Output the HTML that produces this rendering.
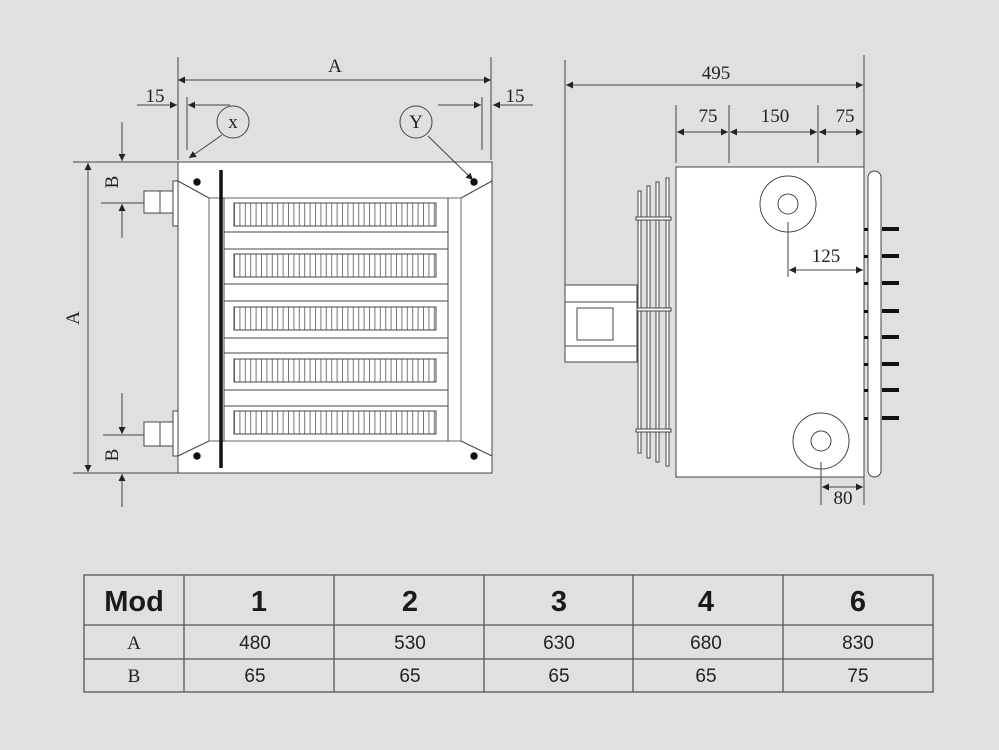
<!DOCTYPE html>
<html><head><meta charset="utf-8"><style>
html,body{margin:0;padding:0;background:#e0e0e0;}
svg{display:block;}
.s{font-family:"Liberation Serif",serif;font-size:19px;fill:#222;}
.t{font-family:"Liberation Sans",sans-serif;font-size:19px;fill:#222;}
.h{font-family:"Liberation Sans",sans-serif;font-size:29px;font-weight:bold;fill:#1a1a1a;}
</style></head><body>
<svg width="999" height="750" viewBox="0 0 999 750" xmlns="http://www.w3.org/2000/svg">
<defs>
<marker id="a" viewBox="0 0 10 10" refX="10" refY="5" markerWidth="9" markerHeight="7" orient="auto-start-reverse" markerUnits="userSpaceOnUse"><path d="M0,0L10,5L0,10z" fill="#222"/></marker>
<pattern id="g" x="234" y="0" width="5.4" height="10" patternUnits="userSpaceOnUse"><rect width="5.4" height="10" fill="#fff"/><line x1="0.5" y1="0" x2="0.5" y2="10" stroke="#777" stroke-width="1"/></pattern>
</defs>
<rect width="999" height="750" fill="#e0e0e0"/>
<g stroke="#444" stroke-width="1" fill="none">
<rect x="178" y="162" width="314" height="311" fill="#fff"/>
<rect x="209" y="198" width="252" height="243" fill="#fff" stroke="#666"/>
<line x1="224" y1="198" x2="224" y2="441"/>
<line x1="448" y1="198" x2="448" y2="441"/>
<line x1="224" y1="232" x2="448" y2="232"/><line x1="224" y1="249" x2="448" y2="249"/>
<line x1="224" y1="284" x2="448" y2="284"/><line x1="224" y1="301" x2="448" y2="301"/>
<line x1="224" y1="338" x2="448" y2="338"/><line x1="224" y1="353" x2="448" y2="353"/>
<line x1="224" y1="390" x2="448" y2="390"/><line x1="224" y1="406" x2="448" y2="406"/>
<rect x="234" y="203" width="202" height="23" fill="url(#g)"/>
<rect x="234" y="254" width="202" height="23" fill="url(#g)"/>
<rect x="234" y="307" width="202" height="23" fill="url(#g)"/>
<rect x="234" y="359" width="202" height="23" fill="url(#g)"/>
<rect x="234" y="411" width="202" height="23" fill="url(#g)"/>
<line x1="178" y1="181" x2="209" y2="198"/><line x1="461" y1="198" x2="492" y2="181"/>
<line x1="178" y1="456" x2="209" y2="441"/><line x1="461" y1="441" x2="492" y2="456"/>
<rect x="173" y="181" width="5" height="45" fill="#fff"/>
<rect x="144" y="191" width="29" height="22" fill="#fff"/><line x1="160" y1="191" x2="160" y2="213"/>
<rect x="173" y="411" width="5" height="45" fill="#fff"/>
<rect x="144" y="422" width="29" height="24" fill="#fff"/><line x1="160" y1="422" x2="160" y2="446"/>
<line x1="178" y1="57" x2="178" y2="160"/><line x1="491" y1="57" x2="491" y2="160"/>
<line x1="178" y1="80" x2="491" y2="80" marker-start="url(#a)" marker-end="url(#a)"/>
<line x1="137" y1="105" x2="177" y2="105" marker-end="url(#a)"/>
<line x1="187" y1="97" x2="187" y2="150"/>
<line x1="230" y1="105" x2="188" y2="105" marker-end="url(#a)"/>
<line x1="482" y1="97" x2="482" y2="150"/>
<line x1="438" y1="105" x2="481" y2="105" marker-end="url(#a)"/>
<line x1="533" y1="105" x2="493" y2="105" marker-end="url(#a)"/>
<circle cx="233" cy="122" r="16"/><circle cx="416" cy="122" r="16"/>
<line x1="222" y1="135" x2="189" y2="158" marker-end="url(#a)"/>
<line x1="428" y1="136" x2="473" y2="180" marker-end="url(#a)"/>
<line x1="73" y1="162" x2="178" y2="162"/><line x1="73" y1="473" x2="178" y2="473"/>
<line x1="88" y1="163" x2="88" y2="472" marker-start="url(#a)" marker-end="url(#a)"/>
<line x1="122" y1="122" x2="122" y2="161" marker-end="url(#a)"/>
<line x1="122" y1="238" x2="122" y2="204" marker-end="url(#a)"/>
<line x1="101" y1="203" x2="144" y2="203"/>
<line x1="103" y1="435" x2="144" y2="435"/>
<line x1="122" y1="393" x2="122" y2="434" marker-end="url(#a)"/>
<line x1="122" y1="507" x2="122" y2="474" marker-end="url(#a)"/>
</g>
<line x1="221" y1="170" x2="221" y2="468" stroke="#111" stroke-width="3.5"/>
<g fill="#111"><circle cx="197" cy="182" r="3.7"/><circle cx="474" cy="182" r="3.7"/><circle cx="197" cy="456" r="3.7"/><circle cx="474" cy="456" r="3.7"/></g>
<text class="s" x="335" y="72" text-anchor="middle">A</text>
<text class="s" x="155" y="102" text-anchor="middle">15</text>
<text class="s" x="515" y="102" text-anchor="middle">15</text>
<text class="s" x="233" y="128" text-anchor="middle">x</text>
<text class="s" x="416" y="128" text-anchor="middle">Y</text>
<text class="s" transform="translate(79,318) rotate(-90)" text-anchor="middle">A</text>
<text class="s" transform="translate(118,182) rotate(-90)" text-anchor="middle">B</text>
<text class="s" transform="translate(118,455) rotate(-90)" text-anchor="middle">B</text>
<g stroke="#444" stroke-width="1" fill="none">
<line x1="565" y1="60" x2="565" y2="285"/><line x1="864" y1="55" x2="864" y2="167"/>
<line x1="566" y1="85" x2="863" y2="85" marker-start="url(#a)" marker-end="url(#a)"/>
<line x1="676" y1="105" x2="676" y2="163"/><line x1="729" y1="105" x2="729" y2="163"/><line x1="818" y1="105" x2="818" y2="163"/>
<line x1="677" y1="132" x2="728" y2="132" marker-start="url(#a)" marker-end="url(#a)"/>
<line x1="730" y1="132" x2="817" y2="132" marker-start="url(#a)" marker-end="url(#a)"/>
<line x1="819" y1="132" x2="863" y2="132" marker-start="url(#a)" marker-end="url(#a)"/>
<rect x="676" y="167" width="188" height="310" fill="#fff"/>
<circle cx="788" cy="204" r="28"/><circle cx="788" cy="204" r="10"/>
<circle cx="821" cy="441" r="28"/><circle cx="821" cy="441" r="10"/>
<line x1="788" y1="222" x2="788" y2="277"/>
<line x1="789" y1="270" x2="863" y2="270" marker-start="url(#a)" marker-end="url(#a)"/>
<line x1="821" y1="462" x2="821" y2="505"/><line x1="864" y1="477" x2="864" y2="505"/>
<line x1="822" y1="487" x2="863" y2="487" marker-start="url(#a)" marker-end="url(#a)"/>
<rect x="868" y="171" width="13" height="306" rx="6.5" fill="#fff"/>
<rect x="638" y="191" width="3" height="262" fill="#fff"/>
<rect x="647" y="186" width="3" height="272" fill="#fff"/>
<rect x="656" y="182" width="3" height="280" fill="#fff"/>
<rect x="666" y="178" width="3" height="288" fill="#fff"/>
<rect x="636" y="217" width="35" height="3" fill="#fff"/>
<rect x="636" y="308" width="35" height="3" fill="#fff"/>
<rect x="636" y="429" width="35" height="3" fill="#fff"/>
<rect x="565" y="285" width="72" height="77" fill="#fff"/>
<line x1="565" y1="302" x2="637" y2="302"/><line x1="565" y1="346" x2="637" y2="346"/>
<rect x="577" y="308" width="36" height="32"/>
</g>
<g fill="#111">
<rect x="864" y="228" width="4" height="3"/><rect x="882" y="227" width="17" height="4"/>
<rect x="864" y="255" width="4" height="3"/><rect x="882" y="254" width="17" height="4"/>
<rect x="864" y="282" width="4" height="3"/><rect x="882" y="281" width="17" height="4"/>
<rect x="864" y="310" width="4" height="3"/><rect x="882" y="309" width="17" height="4"/>
<rect x="864" y="336" width="4" height="3"/><rect x="882" y="335" width="17" height="4"/>
<rect x="864" y="363" width="4" height="3"/><rect x="882" y="362" width="17" height="4"/>
<rect x="864" y="389" width="4" height="3"/><rect x="882" y="388" width="17" height="4"/>
<rect x="864" y="417" width="4" height="3"/><rect x="882" y="416" width="17" height="4"/>
</g>
<text class="s" x="716" y="79" text-anchor="middle">495</text>
<text class="s" x="708" y="122" text-anchor="middle">75</text>
<text class="s" x="775" y="122" text-anchor="middle">150</text>
<text class="s" x="845" y="122" text-anchor="middle">75</text>
<text class="s" x="826" y="262" text-anchor="middle">125</text>
<text class="s" x="843" y="504" text-anchor="middle">80</text>
<g stroke="#555" stroke-width="1.3" fill="none">
<rect x="84" y="575" width="849" height="117"/>
<line x1="84" y1="625" x2="933" y2="625"/><line x1="84" y1="659" x2="933" y2="659"/>
<line x1="184" y1="575" x2="184" y2="692"/><line x1="334" y1="575" x2="334" y2="692"/>
<line x1="484" y1="575" x2="484" y2="692"/><line x1="633" y1="575" x2="633" y2="692"/>
<line x1="783" y1="575" x2="783" y2="692"/>
</g>
<g text-anchor="middle">
<text class="h" x="134" y="611">Mod</text>
<text class="h" x="259" y="611">1</text><text class="h" x="410" y="611">2</text>
<text class="h" x="559" y="611">3</text><text class="h" x="706" y="611">4</text>
<text class="h" x="858" y="611">6</text>
<text class="s" x="134" y="649">A</text><text class="s" x="134" y="682">B</text>
<text class="t" x="255" y="649">480</text><text class="t" x="410" y="649">530</text>
<text class="t" x="559" y="649">630</text><text class="t" x="706" y="649">680</text>
<text class="t" x="858" y="649">830</text>
<text class="t" x="255" y="682">65</text><text class="t" x="410" y="682">65</text>
<text class="t" x="559" y="682">65</text><text class="t" x="706" y="682">65</text>
<text class="t" x="858" y="682">75</text>
</g>
</svg>
</body></html>
